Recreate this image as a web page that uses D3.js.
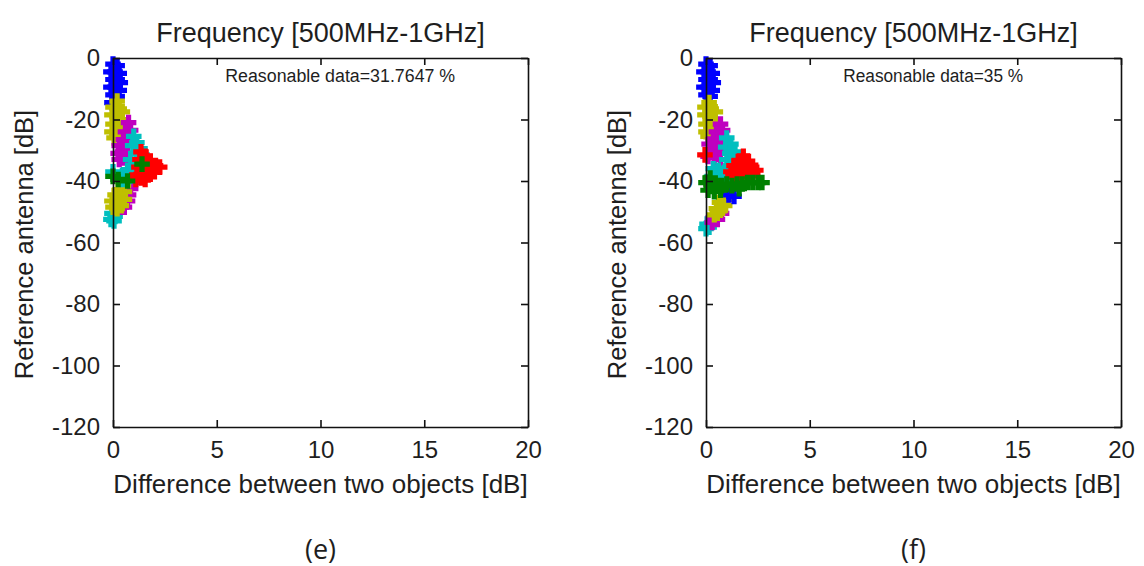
<!DOCTYPE html>
<html>
<head>
<meta charset="utf-8">
<script src="https://cdn.jsdelivr.net/npm/d3@7"></script>
<style>
    body { margin: 0; background: #ffffff; }
    text { font-family: "Liberation Sans", Arial, sans-serif; fill: #1e1e1e; }
</style>
</head>
<body>
<div id="chart"></div>
<script>
// оси и подписи
var xTicks = [0, 5, 10, 15, 20];
var yTicks = [0, -20, -40, -60, -80, -100, -120];
var titleText = "Frequency [500MHz-1GHz]";
var xLabelText = "Difference between two objects [dB]";
var yLabelText = "Reference antenna [dB]";

// цвета серий (порядок MATLAB)
var colors = {
    blue: "#0000ff", olive: "#bfbf00", magenta: "#bf00bf",
    cyan: "#00bfbf", red: "#ff0000", green: "#008000"
};

// ---- панель (e): точки [разность, опорная антенна] ----
var eLowCyan = [[-0.05, -50.5], [0.1, -51.5], [-0.1, -52.5], [0.05, -53]];
var eLowMagenta = [[0.95, -40.5], [0.85, -42.5], [0.75, -44.5], [0.7, -46.5], [0.55, -48.5], [0.4, -48.5], [0.3, -47]];
var eLowOlive = [[0.5, -41.5], [0.3, -43], [0.55, -43.5], [0.1, -44.5], [0.35, -45], [0.55, -46], [-0.05, -46.5],
    [0.2, -47], [0.4, -48], [0.0, -48.5], [0.2, -49]];
var eBlue = [[0.0, -2], [0.2, -2.5], [-0.1, -4.5], [0.1, -4.5], [0.3, -5], [0.0, -7], [0.2, -7], [0.35, -8],
    [-0.1, -9.5], [0.1, -9.5], [0.3, -10.5], [0.0, -12], [0.2, -12.5], [-0.05, -14.5]];
var eOlive = [[0.2, -14], [0.0, -16], [0.3, -16.5], [0.45, -17.5], [-0.05, -18.5], [0.2, -19], [0.4, -20],
    [0.0, -21.5], [0.25, -22], [0.45, -22.5], [-0.05, -24], [0.2, -24.5], [0.05, -26], [0.3, -25.5]];
var eMagenta = [[0.75, -21], [0.85, -23.5], [0.6, -24], [0.8, -26], [0.5, -26.5], [0.3, -28.5], [0.65, -28.5],
    [0.45, -30.5], [0.25, -31], [0.7, -31], [0.5, -32.5], [0.3, -33], [0.75, -33]];
var eCyan = [[1.0, -25.5], [1.15, -27.5], [0.95, -28.5], [1.3, -29.5], [1.1, -31], [1.4, -31.5], [0.85, -33],
    [1.2, -33.5], [0.95, -35], [0.7, -36.5], [1.05, -37], [0.5, -38], [0.8, -38.5], [0.45, -39.5], [0.0, -37]];
var eRed = [[1.35, -30.5], [1.55, -32], [1.3, -33], [1.8, -33.5], [1.55, -34.5], [2.05, -35], [2.25, -35.5],
    [1.25, -35.5], [1.8, -36], [2.0, -37], [1.5, -37], [1.15, -38], [1.7, -38], [1.35, -39], [1.1, -39.5], [1.55, -39.5]];
var eGreen = [[0.0, -38.5], [0.25, -39.5], [1.4, -34.5], [0.7, -40]];

// ---- панель (f) ----
var fLowCyan = [[0.05, -54], [0.15, -55], [0.0, -55.5]];
var fLowMagenta = [[0.6, -50], [0.75, -50.5], [0.35, -52], [0.55, -52.5], [0.3, -53.5]];
var fLowOlive = [[0.85, -45.5], [1.05, -46], [0.65, -47], [0.9, -48], [0.5, -49], [0.7, -49.5], [0.4, -51], [0.55, -50.5]];
var fBlue = [[0.0, -2], [0.2, -2.5], [-0.1, -4.5], [0.1, -4.5], [0.3, -5], [0.0, -7], [0.2, -7], [0.35, -8],
    [-0.1, -9.5], [0.1, -9.5], [0.3, -10.5], [0.0, -12], [0.2, -12.5]];
var fOlive = [[0.15, -14.5], [-0.05, -16], [0.25, -16.5], [0.45, -17.5], [-0.05, -18.5], [0.2, -19], [0.4, -20],
    [0.0, -21.5], [0.25, -22], [0.45, -22.5], [0.0, -24], [0.25, -24.5], [0.1, -25.5]];
var fMagenta = [[0.7, -21.5], [0.8, -23.5], [0.5, -24], [0.65, -26], [0.35, -26.5], [0.15, -28], [0.5, -28.5],
    [0.75, -29], [0.3, -30.5], [0.6, -31], [0.1, -32], [0.4, -32.5], [0.7, -33]];
var fCyan = [[1.0, -26], [1.2, -28], [0.95, -29], [1.4, -30.5], [1.15, -31], [1.6, -32.5], [1.0, -33],
    [1.35, -33.5], [1.15, -35.5], [0.95, -36.5], [0.35, -36], [0.6, -36.5], [0.85, -37.5], [0.3, -38.5],
    [0.55, -39], [0.8, -39.5]];
var fBlueLow = [[1.1, -44.5], [1.35, -45]];
var fRed = [[1.8, -32], [1.6, -33.5], [2.0, -33.5], [1.35, -35], [1.75, -35], [2.2, -35.5], [2.4, -36.5],
    [1.2, -37], [1.55, -37], [1.95, -37], [2.25, -37.5], [1.3, -38.5], [1.7, -38.5], [2.0, -38.5], [-0.05, -31.5]];
var fGreen = [[0.0, -40.5], [0.25, -41], [0.5, -41.5], [0.75, -41.5], [1.0, -41], [1.25, -41.5], [1.5, -41],
    [1.75, -41], [2.0, -40.5], [2.25, -40.5], [2.5, -40.5], [2.7, -40.5], [0.1, -43], [0.4, -43.5],
    [0.7, -43], [1.6, -42.5], [0.2, -39]];

var svg = d3.select("#chart").append("svg")
    .attr("width", 1144)
    .attr("height", 566);

var marker = d3.symbol().type(d3.symbolCross).size(135);

function drawPanel(left, series, note, caption) {
    var width = 415,
        height = 369,
        top = 58,
        x = d3.scaleLinear().domain([0, 20]).range([0, width]),
        y = d3.scaleLinear().domain([-120, 0]).range([height, 0]),
        g = svg.append("g").attr("transform", "translate(" + left + "," + top + ")");

    // точки, в порядке отрисовки серий
    series.forEach(function (s) {
        g.append("g")
            .selectAll("path")
            .data(s.points)
            .enter()
            .append("path")
            .attr("d", marker)
            .attr("transform", function (d) { return "translate(" + x(d[0]) + "," + y(d[1]) + ")"; })
            .attr("fill", s.color);
    });

    // рамка из четырех осей, риски внутрь; минус - обычный дефис, как в MATLAB
    var plain = function (d) { return String(d); };
    var axes = [
        {axis: d3.axisBottom(x).tickValues(xTicks).tickFormat(plain).tickPadding(14), at: [0, height]},
        {axis: d3.axisTop(x).tickValues(xTicks).tickFormat(""), at: [0, 0]},
        {axis: d3.axisLeft(y).tickValues(yTicks).tickFormat(plain).tickPadding(13), at: [0, 0]},
        {axis: d3.axisRight(y).tickValues(yTicks).tickFormat(""), at: [width, 0]}
    ];
    axes.forEach(function (a) {
        var ag = g.append("g")
            .attr("transform", "translate(" + a.at[0] + "," + a.at[1] + ")")
            .call(a.axis.tickSizeInner(-7).tickSizeOuter(0));
        ag.select(".domain").attr("stroke", "#111").attr("stroke-width", 1.6);
        ag.selectAll(".tick line").attr("stroke", "#111").attr("stroke-width", 1.6);
        ag.selectAll(".tick text").attr("font-size", 24).attr("fill", "#1e1e1e")
            .attr("font-family", "Liberation Sans, Arial, sans-serif");
    });

    g.append("text")
        .attr("x", width / 2).attr("y", -16)
        .attr("text-anchor", "middle").attr("font-size", 27)
        .text(titleText);

    g.append("text")
        .attr("x", width / 2).attr("y", height + 66)
        .attr("text-anchor", "middle").attr("font-size", 26)
        .text(xLabelText);

    g.append("text")
        .attr("transform", "translate(-80," + (height / 2 + 2) + ") rotate(-90)")
        .attr("text-anchor", "middle").attr("font-size", 25.5)
        .text(yLabelText);

    g.append("text")
        .attr("x", x(10.95)).attr("y", y(-7.8))
        .attr("text-anchor", "middle").attr("font-size", 18)
        .attr("textLength", note.length)
        .attr("lengthAdjust", "spacingAndGlyphs")
        .text(note.text);

    g.append("text")
        .attr("x", width / 2).attr("y", height + 132)
        .attr("text-anchor", "middle").attr("font-size", 27)
        .style("font-family", "\"Open Sans\", \"Noto Sans\", sans-serif")
        .text(caption);
}

drawPanel(113, [
    {points: eLowCyan, color: colors.cyan},
    {points: eLowMagenta, color: colors.magenta},
    {points: eLowOlive, color: colors.olive},
    {points: eBlue, color: colors.blue},
    {points: eOlive, color: colors.olive},
    {points: eMagenta, color: colors.magenta},
    {points: eCyan, color: colors.cyan},
    {points: eRed, color: colors.red},
    {points: eGreen, color: colors.green}
], {text: "Reasonable data=31.7647 %", length: 230}, "(e)");

drawPanel(706, [
    {points: fLowCyan, color: colors.cyan},
    {points: fLowMagenta, color: colors.magenta},
    {points: fLowOlive, color: colors.olive},
    {points: fBlue, color: colors.blue},
    {points: fOlive, color: colors.olive},
    {points: fMagenta, color: colors.magenta},
    {points: fCyan, color: colors.cyan},
    {points: fBlueLow, color: colors.blue},
    {points: fRed, color: colors.red},
    {points: fGreen, color: colors.green}
], {text: "Reasonable data=35 %", length: 180}, "(f)");
</script>
</body>
</html>
